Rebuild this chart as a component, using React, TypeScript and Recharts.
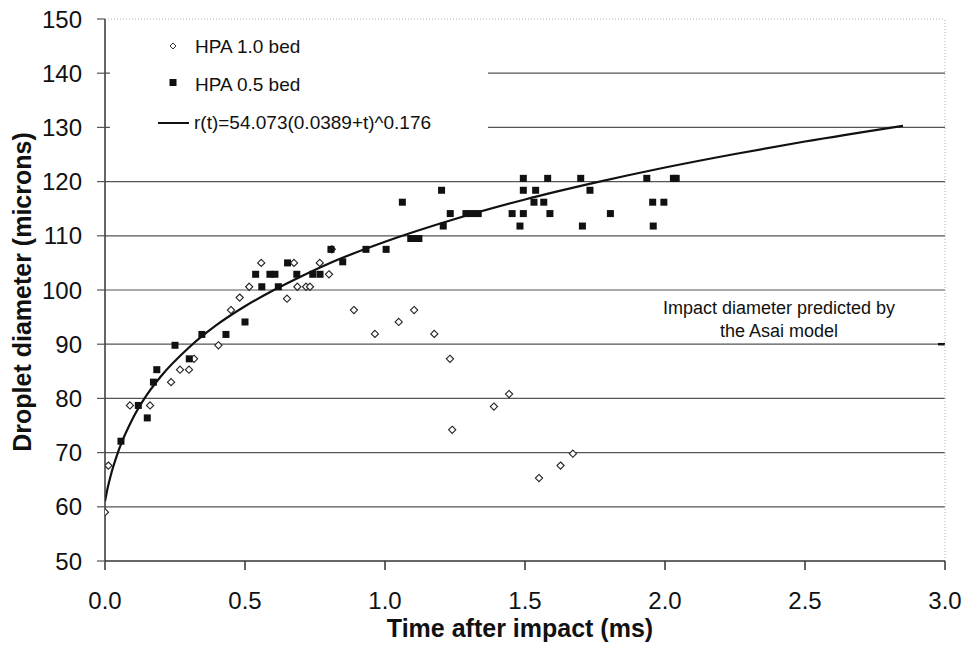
import React from 'react';
import { ComposedChart, Scatter, Line, XAxis, YAxis, ReferenceLine, Legend, Label } from 'recharts';

// HPA 1.0 bed (open diamonds)
const hpa10Time = [0.0, 0.012, 0.089, 0.161, 0.236, 0.268, 0.3, 0.318, 0.405, 0.45, 0.481, 0.515, 0.558, 0.65, 0.675, 0.687, 0.718, 0.732, 0.767, 0.8, 0.81, 0.889, 0.964, 1.049, 1.104, 1.176, 1.232, 1.24, 1.389, 1.443, 1.55, 1.627, 1.671];
const hpa10Diam = [59.0, 67.6, 78.7, 78.7, 83.0, 85.3, 85.3, 87.3, 89.8, 96.3, 98.6, 100.6, 105.0, 98.4, 105.0, 100.6, 100.6, 100.6, 105.0, 102.9, 107.5, 96.3, 91.9, 94.1, 96.3, 91.9, 87.3, 74.2, 78.5, 80.8, 65.3, 67.6, 69.8];

// HPA 0.5 bed (filled squares)
const hpa05Time = [0.057, 0.119, 0.151, 0.173, 0.185, 0.25, 0.301, 0.346, 0.432, 0.5, 0.538, 0.56, 0.589, 0.607, 0.619, 0.652, 0.685, 0.742, 0.768, 0.807, 0.849, 0.932, 1.004, 1.062, 1.092, 1.107, 1.121, 1.202, 1.208, 1.233, 1.289, 1.31, 1.333, 1.454, 1.482, 1.494, 1.494, 1.494, 1.532, 1.538, 1.567, 1.581, 1.589, 1.699, 1.705, 1.732, 1.805, 1.935, 1.956, 1.958, 1.996, 2.03, 2.04];
const hpa05Diam = [72.1, 78.7, 76.4, 83.0, 85.3, 89.8, 87.3, 91.8, 91.8, 94.1, 102.9, 100.6, 102.9, 102.9, 100.6, 105.0, 102.9, 102.9, 102.9, 107.5, 105.2, 107.5, 107.5, 116.2, 109.5, 109.5, 109.5, 118.4, 111.8, 114.1, 114.1, 114.1, 114.1, 114.1, 111.8, 114.1, 118.4, 120.6, 116.2, 118.4, 116.2, 120.6, 114.1, 120.6, 111.8, 118.4, 114.1, 120.6, 116.2, 111.8, 116.2, 120.6, 120.6];

// fitted curve
const fitTime = [0, 0.01, 0.02, 0.05, 0.1, 0.15, 0.2, 0.3, 0.4, 0.5, 0.6, 0.7, 0.8, 1.0, 1.25, 1.5, 1.75, 2.0, 2.25, 2.5, 2.85];
const fitDiam = [61.0, 63.6, 65.7, 70.6, 76.4, 80.7, 84.1, 89.4, 93.6, 97.0, 99.9, 102.5, 104.9, 108.9, 113.1, 116.7, 119.8, 122.6, 125.1, 127.4, 130.3];

const timeTicks = [0, 0.5, 1, 1.5, 2, 2.5, 3];
const diamTicks = [50, 60, 70, 80, 90, 100, 110, 120, 130, 140, 150];
const gridLevels = [60, 70, 80, 90, 100, 110, 120, 130, 140];
const legendLabels = ['HPA 1.0 bed', 'HPA 0.5 bed', 'r(t)=54.073(0.0389+t)^0.176'];

const FONT = '"Liberation Sans", Arial, Helvetica, sans-serif';
const INK = '#111';

const toPoints = (ts: number[], vs: number[]) => ts.map((t, i) => ({ t, v: vs[i] }));
const hpa10 = toPoints(hpa10Time, hpa10Diam);
const hpa05 = toPoints(hpa05Time, hpa05Diam);
const fit = toPoints(fitTime, fitDiam);

const DiamondMark = (props: any) => {
  const { cx, cy } = props;
  if (cx == null || cy == null) return null;
  const r = 3.6;
  return (
    <polygon
      points={`${cx},${cy - r} ${cx + r},${cy} ${cx},${cy + r} ${cx - r},${cy}`}
      fill="#fff"
      stroke="#222"
      strokeWidth={1.1}
    />
  );
};

const SquareMark = (props: any) => {
  const { cx, cy } = props;
  if (cx == null || cy == null) return null;
  return <rect x={cx - 3.5} y={cy - 3.5} width={7} height={7} fill={INK} />;
};

const LegendBox = () => (
  <svg width={378} height={126} style={{ display: 'block' }}>
    <polygon points="63,21 66,24 63,27 60,24" fill="#fff" stroke="#333" strokeWidth={1} />
    <text x={85} y={31} fontSize={19} fontFamily={FONT} fill={INK}>{legendLabels[0]}</text>
    <rect x={59.5} y={57} width={7} height={7} fill={INK} />
    <text x={85} y={68.5} fontSize={19} fontFamily={FONT} fill={INK}>{legendLabels[1]}</text>
    <line x1={48} y1={101} x2={79} y2={101} stroke={INK} strokeWidth={2} />
    <text x={84} y={106.5} fontSize={19} fontFamily={FONT} fill={INK}>{legendLabels[2]}</text>
  </svg>
);

const AsaiNote = (props: any) => {
  const vb = props.viewBox || {};
  const cx = vb.x + vb.width - 166;
  return (
    <g fontFamily={FONT} fontSize={18} fill={INK} textAnchor="middle">
      <text x={cx} y={vb.y - 30}>Impact diameter predicted by</text>
      <text x={cx} y={vb.y - 7}>the Asai model</text>
    </g>
  );
};

export default function App() {
  return (
    <div style={{ position: 'absolute', left: 0, top: 0, width: 967, height: 647, background: '#fff' }}>
      <ComposedChart width={967} height={647} margin={{ top: 19, right: 22, bottom: 0, left: 0 }}>
        <XAxis
          type="number"
          dataKey="t"
          domain={[0, 3]}
          ticks={timeTicks}
          allowDataOverflow
          height={86}
          tickSize={9}
          tickMargin={22}
          tickFormatter={(v: number) => v.toFixed(1)}
          tick={{ fill: INK, fontSize: 24, fontFamily: FONT }}
          axisLine={{ stroke: '#333', strokeWidth: 1.5 }}
          tickLine={{ stroke: '#333', strokeWidth: 1.5 }}
        >
          <Label
            content={() => (
              <text x={520} y={637} textAnchor="middle" fontSize={25} fontWeight="bold" fontFamily={FONT} fill={INK}>
                Time after impact (ms)
              </text>
            )}
          />
        </XAxis>
        <YAxis
          type="number"
          dataKey="v"
          domain={[50, 150]}
          ticks={diamTicks}
          allowDataOverflow
          width={105}
          tickSize={8}
          tickMargin={15}
          tick={{ fill: INK, fontSize: 24, fontFamily: FONT }}
          axisLine={{ stroke: '#333', strokeWidth: 1.5 }}
          tickLine={{ stroke: '#555', strokeWidth: 1.2 }}
        >
          <Label
            content={() => (
              <text
                x={31}
                y={292}
                transform="rotate(-90 31 292)"
                textAnchor="middle"
                fontSize={25}
                fontWeight="bold"
                fontFamily={FONT}
                fill={INK}
              >
                Droplet diameter (microns)
              </text>
            )}
          />
        </YAxis>

        {gridLevels.map((g) => (
          <ReferenceLine key={g} y={g} stroke="#555" strokeWidth={1.2} />
        ))}
        <ReferenceLine y={90} stroke="none" label={<AsaiNote />} />
        <ReferenceLine segment={[{ x: 2.975, y: 90 }, { x: 3, y: 90 }]} stroke={INK} strokeWidth={2.5} />
        <ReferenceLine y={150} stroke="#b0b0b0" strokeDasharray="1 2" strokeWidth={1} />
        <ReferenceLine x={3} stroke="#b0b0b0" strokeDasharray="1 2" strokeWidth={1} />

        <Line
          data={fit}
          dataKey="v"
          type="monotone"
          stroke={INK}
          strokeWidth={2.2}
          dot={false}
          activeDot={false}
          isAnimationActive={false}
        />
        <Scatter data={hpa10} dataKey="v" shape={DiamondMark} isAnimationActive={false} />
        <Scatter data={hpa05} dataKey="v" shape={SquareMark} isAnimationActive={false} />

        <Legend
          layout="vertical"
          align="center"
          verticalAlign="middle"
          width={378}
          height={126}
          wrapperStyle={{ left: 110, top: 22, width: 378, height: 126, background: '#fff' }}
          content={LegendBox}
        />
      </ComposedChart>
    </div>
  );
}
